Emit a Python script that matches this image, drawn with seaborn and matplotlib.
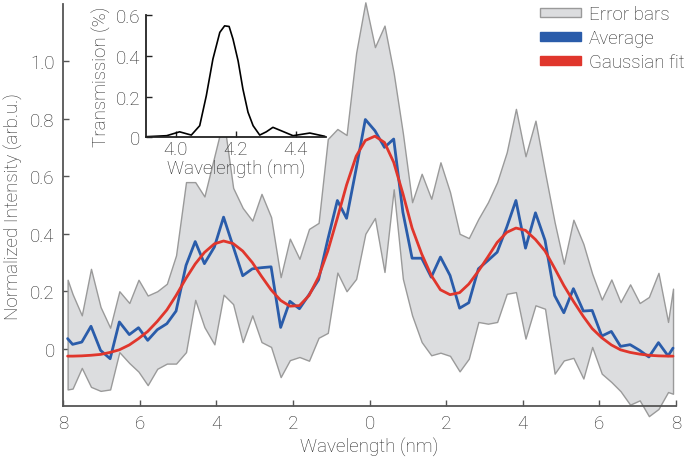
import numpy as np
import pandas as pd
import matplotlib
matplotlib.use("Agg")
import matplotlib.pyplot as plt
from matplotlib.patches import Patch
import seaborn as sns

# wavelength offset from the centre (nm), left half negative
wavelength = [-7.88, -7.75, -7.51, -7.27, -7.02, -6.77, -6.53, -6.27, -6.03, -5.79,
              -5.54, -5.29, -5.05, -4.79, -4.55, -4.31, -4.05, -3.81, -3.56, -3.31,
              -3.06, -2.82, -2.57, -2.32, -2.08, -1.83, -1.58, -1.33, -1.09, -0.84,
              -0.60, -0.35, -0.11, 0.14, 0.39, 0.63, 0.87, 1.11, 1.36, 1.61,
              1.85, 2.10, 2.35, 2.59, 2.84, 3.09, 3.33, 3.58, 3.82, 4.07,
              4.33, 4.58, 4.83, 5.07, 5.32, 5.58, 5.81, 6.06, 6.31, 6.55,
              6.80, 7.05, 7.29, 7.54, 7.79, 7.92]

average = [0.035, 0.015, 0.023, 0.078, -0.006, -0.035, 0.093, 0.049, 0.073, 0.029,
           0.066, 0.087, 0.131, 0.290, 0.373, 0.296, 0.354, 0.458, 0.356, 0.254,
           0.278, 0.282, 0.285, 0.074, 0.165, 0.139, 0.188, 0.240, 0.380, 0.516,
           0.454, 0.626, 0.798, 0.759, 0.701, 0.730, 0.475, 0.315, 0.315, 0.249,
           0.319, 0.255, 0.141, 0.160, 0.278, 0.307, 0.336, 0.423, 0.516, 0.350,
           0.473, 0.377, 0.185, 0.125, 0.209, 0.131, 0.133, 0.044, 0.060, 0.008,
           0.014, -0.006, -0.029, 0.021, -0.025, 0.002]

upper = [0.240, 0.190, 0.116, 0.278, 0.145, 0.073, 0.200, 0.159, 0.240, 0.185,
         0.200, 0.226, 0.325, 0.580, 0.580, 0.530, 0.670, 0.800, 0.560, 0.490,
         0.446, 0.539, 0.458, 0.249, 0.383, 0.313, 0.417, 0.438, 0.730, 0.765,
         0.744, 1.030, 1.206, 1.050, 1.125, 0.960, 0.750, 0.510, 0.609, 0.522,
         0.649, 0.545, 0.400, 0.385, 0.452, 0.510, 0.580, 0.684, 0.835, 0.670,
         0.794, 0.614, 0.440, 0.296, 0.449, 0.365, 0.261, 0.171, 0.241, 0.162,
         0.224, 0.159, 0.180, 0.264, 0.093, 0.209]

lower = [-0.142, -0.139, -0.067, -0.133, -0.147, -0.142, -0.012, -0.050, -0.080, -0.127,
         -0.070, -0.052, -0.052, -0.012, 0.170, 0.075, 0.015, 0.188, 0.155, 0.023,
         0.116, 0.023, 0.006, -0.099, -0.040, -0.029, -0.042, 0.038, 0.055, 0.265,
         0.200, 0.243, 0.400, 0.455, 0.267, 0.555, 0.243, 0.116, 0.023, -0.023,
         -0.014, -0.025, -0.079, -0.035, 0.093, 0.087, 0.093, 0.191, 0.197, 0.035,
         0.151, 0.139, -0.087, -0.041, -0.032, -0.104, 0.006, -0.087, -0.116, -0.148,
         -0.195, -0.180, -0.235, -0.210, -0.151, -0.157]

gauss_fit = [-0.026, -0.026, -0.025, -0.023, -0.020, -0.013, -0.004, 0.013, 0.035, 0.060,
             0.095, 0.135, 0.185, 0.245, 0.295, 0.335, 0.365, 0.375, 0.366, 0.340,
             0.300, 0.252, 0.205, 0.168, 0.148, 0.150, 0.185, 0.250, 0.340, 0.455,
             0.570, 0.670, 0.725, 0.740, 0.718, 0.649, 0.540, 0.420, 0.330, 0.255,
             0.205, 0.188, 0.195, 0.225, 0.270, 0.320, 0.370, 0.405, 0.420, 0.412,
             0.380, 0.340, 0.280, 0.220, 0.165, 0.112, 0.070, 0.038, 0.013, -0.004,
             -0.013, -0.019, -0.023, -0.025, -0.026, -0.026]

# inset: filter transmission
inset_wl = [3.90, 3.97, 4.013, 4.052, 4.08, 4.102, 4.124, 4.147, 4.163, 4.178, 4.191,
            4.208, 4.224, 4.241, 4.258, 4.28, 4.302, 4.324, 4.352, 4.391, 4.447, 4.497]
inset_tr = [0.003, 0.008, 0.027, 0.011, 0.057, 0.204, 0.384, 0.515, 0.547, 0.544, 0.482,
            0.375, 0.237, 0.123, 0.057, 0.011, 0.027, 0.049, 0.032, 0.008, 0.021, 0.005]

x_ticks = [-8, -6, -4, -2, 0, 2, 4, 6, 8]
x_labels = ['8', '6', '4', '2', '0', '2', '4', '6', '8']
y_ticks = [0, 0.2, 0.4, 0.6, 0.8, 1.0]
y_labels = ['0', '0.2', '0.4', '0.6', '0.8', '1.0']

sns.set_style('ticks')
plt.rcParams['font.family'] = ['Roboto', 'DejaVu Sans']
plt.rcParams['font.weight'] = 'light'
plt.rcParams['axes.labelweight'] = 'light'
plt.rcParams['font.size'] = 13.5
text_col = '#2a2a2a'
spine_col = '#555555'

blue = '#2a5caa'
red = '#e0362c'
band_fill = '#dcdddf'
band_edge = '#9a9a9a'

df = pd.DataFrame({'wl': wavelength, 'avg': average, 'fit': gauss_fit,
                   'lo': lower, 'hi': upper})

fig = plt.figure(figsize=(6.85, 4.6), dpi=100)
ax = fig.add_axes([0.092, 0.115, 0.895, 0.874])

ax.fill_between(df['wl'], df['lo'], df['hi'], facecolor=band_fill,
                edgecolor=band_edge, linewidth=1.0, clip_on=False, zorder=1)
sns.lineplot(data=df, x='wl', y='avg', color=blue, linewidth=2.0,
             estimator=None, sort=False, ax=ax, zorder=2)
sns.lineplot(data=df, x='wl', y='fit', color=red, linewidth=2.0,
             estimator=None, sort=False, ax=ax, zorder=3)

ax.set_xlim(-8, 8)
ax.set_ylim(-0.2, 1.2)
ax.set_xticks(x_ticks)
ax.set_xticklabels(x_labels)
ax.set_yticks(y_ticks)
ax.set_yticklabels(y_labels)
ax.set_xlabel('Wavelength (nm)', color=text_col, labelpad=3)
ax.set_ylabel('Normalized Intensity (arb.u.)', color=text_col, labelpad=5)
sns.despine(ax=ax)
for s in ['left', 'bottom']:
    ax.spines[s].set_color(spine_col)
    ax.spines[s].set_linewidth(1.3)
ax.tick_params(direction='in', length=4, width=1.0, color=spine_col,
               labelcolor=text_col, labelsize=13.5, pad=6)

handles = [Patch(facecolor=band_fill, edgecolor=band_edge, linewidth=1.0),
           Patch(facecolor=blue, edgecolor=blue),
           Patch(facecolor=red, edgecolor=red)]
leg = fig.legend(handles, ['Error bars', 'Average', 'Gaussian fit'],
                 loc='upper left', bbox_to_anchor=(0.786, 0.991),
                 frameon=False, borderpad=0.1, borderaxespad=0,
                 handlelength=2.15, handleheight=0.38, handletextpad=0.45,
                 labelspacing=0.32, fontsize=13.5)
for t in leg.get_texts():
    t.set_color(text_col)

# inset with the filter transmission
axin = fig.add_axes([0.2127, 0.6993, 0.2628, 0.2658])
axin.set_facecolor('white')
sns.lineplot(x=inset_wl, y=inset_tr, color='black', linewidth=1.2,
             estimator=None, sort=False, ax=axin)
axin.set_xlim(3.9, 4.5)
axin.set_ylim(0, 0.6)
axin.set_xticks([4.0, 4.2, 4.4])
axin.set_xticklabels(['4.0', '4.2', '4.4'])
axin.set_yticks([0, 0.2, 0.4, 0.6])
axin.set_yticklabels(['0', '0.2', '0.4', '0.6'])
axin.set_xlabel('Wavelength (nm)', color=text_col, labelpad=1)
axin.set_ylabel('Transmission (%)', color=text_col, labelpad=3)
sns.despine(ax=axin)
for s in ['left', 'bottom']:
    axin.spines[s].set_color('#222222')
    axin.spines[s].set_linewidth(1.3)
axin.tick_params(direction='in', length=4, width=1.0, color='#222222',
                 labelcolor=text_col, labelsize=13.5, pad=4)
axin.tick_params(axis='x', pad=2)

fig.savefig('out.png', dpi=100)
